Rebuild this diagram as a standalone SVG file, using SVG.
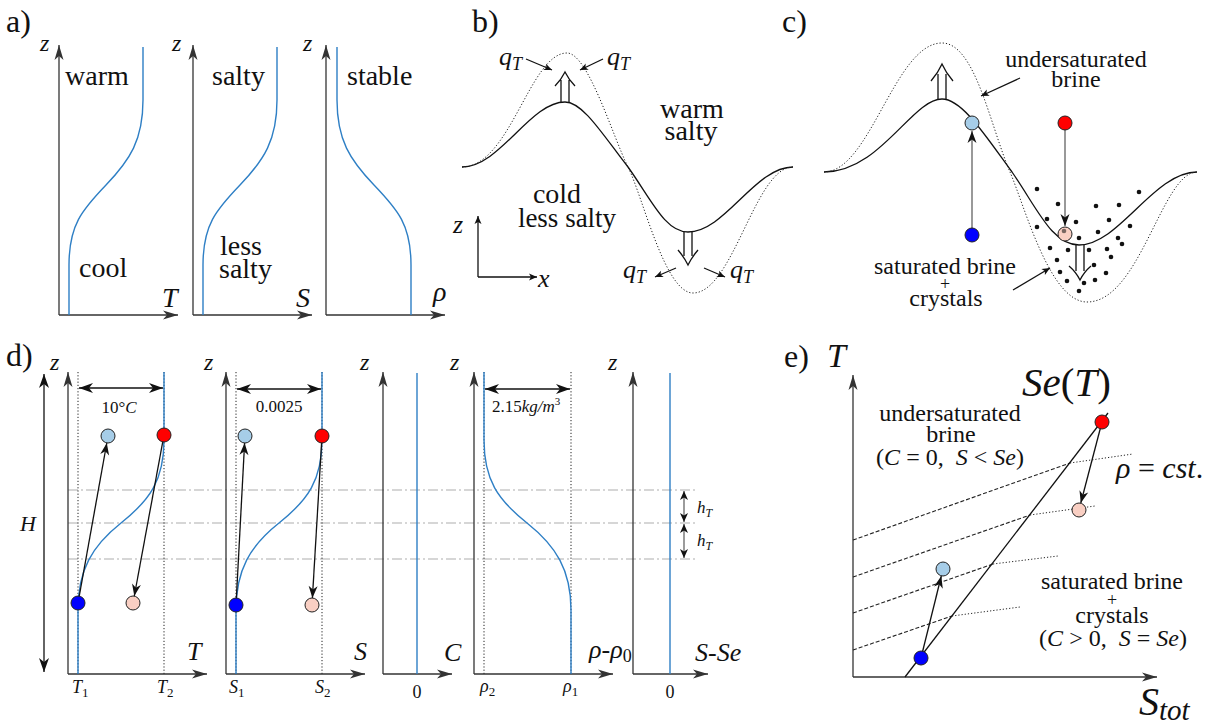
<svg xmlns="http://www.w3.org/2000/svg" width="1218" height="725" viewBox="0 0 1218 725">
<defs>
<style>
text{font-family:'Liberation Serif','DejaVu Serif',serif;fill:#111}
.i{font-style:italic}
.n{font-style:normal}
.ax{stroke:#333;stroke-width:1.3;fill:none}
.bl{stroke:#2e7fc5;stroke-width:1.4;fill:none}
.dt{stroke:#222;stroke-width:1;stroke-dasharray:1.2 2;fill:none}
.dd{stroke:#c9c9c9;stroke-width:1.3;stroke-dasharray:10 3 2 3;fill:none}
.dsh{stroke:#222;stroke-width:1.1;stroke-dasharray:4 2;fill:none}
.k{stroke:#111;stroke-width:1.3;fill:none}
.g{stroke:#777;stroke-width:1.5;fill:none}
.c{stroke:#222;stroke-width:1}
.lb{fill:#a6cde8}
.rd{fill:#ff0000}
.bu{fill:#0000ff}
.pk{fill:#f9cfc3}
</style>
<marker id="ax" viewBox="-16 -6 17 12" refX="0" refY="0" markerWidth="17" markerHeight="12" markerUnits="userSpaceOnUse" orient="auto-start-reverse"><path d="M0,0 L-15,-4.5 L-11,0 L-15,4.5Z" fill="#333"/></marker>
<marker id="dm" viewBox="-16 -6 17 12" refX="0" refY="0" markerWidth="17" markerHeight="12" markerUnits="userSpaceOnUse" orient="auto-start-reverse"><path d="M0,0 L-14,-5 L-10,0 L-14,5Z" fill="#111"/></marker>
<marker id="pt" viewBox="-13 -6 14 12" refX="0" refY="0" markerWidth="14" markerHeight="12" markerUnits="userSpaceOnUse" orient="auto-start-reverse"><path d="M0,0 L-12,-4.5 L-8.5,0 L-12,4.5Z" fill="#111"/></marker>
<marker id="sm" viewBox="-10 -5 11 10" refX="0" refY="0" markerWidth="11" markerHeight="10" markerUnits="userSpaceOnUse" orient="auto-start-reverse"><path d="M0,0 L-8,-3.5 L-6,0 L-8,3.5Z" fill="#111"/></marker>
<marker id="ht" viewBox="-10 -5 11 10" refX="0" refY="0" markerWidth="11" markerHeight="10" markerUnits="userSpaceOnUse" orient="auto-start-reverse"><path d="M0,0 L-9,-4 L-6.5,0 L-9,4Z" fill="#111"/></marker>
</defs>
<rect width="1218" height="725" fill="#fff"/>

<!-- Panel a -->
<g id="panel-a">
<text x="6" y="32" font-size="32">a)</text>
<g id="a-axes">
<path class="ax" d="M59,315 V45" marker-end="url(#ax)"/>
<path class="ax" d="M59,315 H178" marker-end="url(#ax)"/>
<path class="ax" d="M193,315 V45" marker-end="url(#ax)"/>
<path class="ax" d="M193,315 H312" marker-end="url(#ax)"/>
<path class="ax" d="M326,315 V45" marker-end="url(#ax)"/>
<path class="ax" d="M326,315 H445" marker-end="url(#ax)"/>
</g>
<path class="bl" d="M143,47 V100 C143,140 130,160 106,185 C82,210 69,225 69,265 V315"/>
<path class="bl" d="M277,47 V100 C277,140 264,160 240,185 C216,210 203,225 203,265 V315"/>
<path class="bl" d="M337,47 V100 C337,140 350,160 374,185 C398,210 411,225 411,265 V315"/>
<text class="i" x="40" y="51" font-size="24">z</text>
<text class="i" x="172" y="51" font-size="24">z</text>
<text class="i" x="303" y="51" font-size="24">z</text>
<text class="i" x="162" y="307" font-size="28">T</text>
<text class="i" x="296" y="307" font-size="28">S</text>
<text class="i" x="433" y="301" font-size="28">ρ</text>
<text x="65" y="85" font-size="28">warm</text>
<text x="79" y="277" font-size="28">cool</text>
<text x="212" y="85" font-size="28">salty</text>
<text x="220" y="255" font-size="28">less</text>
<text x="219" y="278" font-size="28">salty</text>
<text x="347" y="85" font-size="28">stable</text>
</g>

<!-- Panel b -->
<g id="panel-b">
<text x="472" y="32" font-size="32">b)</text>
<path class="k" d="M462,167 C500,167 530,102 565,102 C583,102 603,135 628,167 C651,199 665,232 688,232 C725,232 755,167 793,167"/>
<path class="dt" d="M462,167 C510,167 530,53 567,53 C588,53 613,137 628,167 C643,197 665,293 693,293 C733,293 755,167 793,167"/>
<g id="b-up-arrow"><path class="k" d="M561,102 V80 M569,102 V80 M555,86 Q561,80 565,72 Q569,80 575,86"/></g>
<g id="b-down-arrow"><path class="k" d="M684,232 V256 M692,232 V256 M678,250 Q684,257 688,265 Q692,257 698,250"/></g>
<g id="b-qT">
<path class="k" d="M526,59 L552,70" marker-end="url(#sm)"/>
<path class="k" d="M603,59 L580,70" marker-end="url(#sm)"/>
<path class="k" d="M676,268 L655,277" marker-end="url(#sm)"/>
<path class="k" d="M704,268 L725,277" marker-end="url(#sm)"/>
<text class="i" x="499" y="65" font-size="26">q<tspan font-size="18" dy="5">T</tspan></text>
<text class="i" x="607" y="65" font-size="26">q<tspan font-size="18" dy="5">T</tspan></text>
<text class="i" x="623" y="278" font-size="26">q<tspan font-size="18" dy="5">T</tspan></text>
<text class="i" x="730" y="278" font-size="26">q<tspan font-size="18" dy="5">T</tspan></text>
</g>
<text x="692" y="118" font-size="28" text-anchor="middle">warm</text>
<text x="691" y="140" font-size="28" text-anchor="middle">salty</text>
<text x="557" y="203" font-size="28" text-anchor="middle">cold</text>
<text x="567" y="227" font-size="27" text-anchor="middle">less salty</text>
<g id="b-axes">
<path class="k" d="M478,277 V216" marker-end="url(#sm)"/>
<path class="k" d="M478,277 H537" marker-end="url(#sm)"/>
<text class="i" x="453" y="233" font-size="26">z</text>
<text class="i" x="538" y="287" font-size="26">x</text>
</g>
</g>

<!-- Panel c -->
<g id="panel-c">
<text x="782" y="32" font-size="32">c)</text>
<path class="k" d="M824,172 C880,172 912,99 942,99 C962,99 985,135 1012,172 C1037,208 1052,245 1079,245 C1119,245 1154,172 1197,172"/>
<path class="dt" d="M824,172 C870,172 895,43 942,43 C975,43 990,125 1010,172 C1025,207 1050,302 1087,302 C1140,302 1162,172 1197,172"/>
<g id="c-up-arrow"><path class="k" d="M938,99 V74 M946,99 V74 M931,81 Q938,73 942,64 Q946,73 953,81"/></g>
<g id="c-crystals" fill="#111">
<circle cx="1037" cy="189" r="2.3"/><circle cx="1058" cy="204" r="2.3"/><circle cx="1139" cy="192" r="2.3"/>
<circle cx="1096" cy="206" r="2.3"/><circle cx="1119" cy="205" r="2.3"/><circle cx="1047" cy="219" r="2.3"/>
<circle cx="1076" cy="222" r="2.3"/><circle cx="1109" cy="220" r="2.3"/><circle cx="1037" cy="227" r="2.3"/>
<circle cx="1098" cy="232" r="2.3"/><circle cx="1130" cy="226" r="2.3"/>
<circle cx="1079" cy="238" r="2.3"/><circle cx="1118" cy="238" r="2.3"/><circle cx="1050" cy="248" r="2.3"/>
<circle cx="1068" cy="250" r="2.3"/><circle cx="1089" cy="250" r="2.3"/><circle cx="1107" cy="249" r="2.3"/>
<circle cx="1122" cy="244" r="2.3"/><circle cx="1111" cy="257" r="2.3"/><circle cx="1057" cy="260" r="2.3"/>
<circle cx="1094" cy="265" r="2.3"/><circle cx="1060" cy="272" r="2.3"/><circle cx="1106" cy="273" r="2.3"/>
<circle cx="1067" cy="281" r="2.3"/><circle cx="1084" cy="283" r="2.3"/><circle cx="1095" cy="280" r="2.3"/>
<circle cx="1079" cy="291" r="2.3"/>
</g>
<g id="c-down-arrow"><path class="k" d="M1076,245 V271 M1084,245 V271 M1069,266 Q1076,272 1080,280 Q1084,272 1091,266"/></g>
<g id="c-paths">
<path class="g" d="M972,235 V131" marker-end="url(#pt)"/>
<path class="g" d="M1065,123 V226" marker-end="url(#pt)"/>
</g>
<g id="c-points">
<circle class="c lb" cx="972" cy="123" r="7"/>
<circle class="c rd" cx="1065" cy="123" r="7"/>
<circle class="c bu" cx="972" cy="235" r="7"/>
<circle class="c pk" cx="1065" cy="234" r="7"/>
<circle cx="1064" cy="231" r="2.3" fill="#111" opacity="0.55"/>
</g>
<text x="1076" y="67" font-size="24" text-anchor="middle">undersaturated</text>
<text x="1076" y="87" font-size="24" text-anchor="middle">brine</text>
<path class="k" d="M1020,78 L981,96" marker-end="url(#sm)"/>
<text x="945" y="274" font-size="24" text-anchor="middle">saturated brine</text>
<text x="945" y="290" font-size="18" text-anchor="middle">+</text>
<text x="946" y="306" font-size="24" text-anchor="middle">crystals</text>
<path class="k" d="M1013,290 L1050,268" marker-end="url(#sm)"/>
</g>

<!-- Panel d -->
<g id="panel-d">
<text x="6" y="366" font-size="32">d)</text>
<g id="d-guides">
<path class="dd" d="M68,490 H698 M68,523 H698 M68,559 H698"/>
<path class="dt" d="M78,372 V674 M164,372 V674 M236,372 V674 M322,372 V674 M484,372 V674 M571,372 V674"/>
</g>
<g id="d-axes">
<path class="ax" d="M68,674 V372" marker-end="url(#ax)"/>
<path class="ax" d="M68,674 H207" marker-end="url(#ax)"/>
<path class="ax" d="M226,674 V372" marker-end="url(#ax)"/>
<path class="ax" d="M226,674 H365" marker-end="url(#ax)"/>
<path class="ax" d="M383,674 V372" marker-end="url(#ax)"/>
<path class="ax" d="M383,674 H452" marker-end="url(#ax)"/>
<path class="ax" d="M474,674 V372" marker-end="url(#ax)"/>
<path class="ax" d="M474,674 H613" marker-end="url(#ax)"/>
<path class="ax" d="M633,674 V372" marker-end="url(#ax)"/>
<path class="ax" d="M633,674 H708" marker-end="url(#ax)"/>
<path class="k" d="M44,374 V672" marker-start="url(#dm)" marker-end="url(#dm)"/>
</g>
<g id="d-profiles">
<path class="bl" d="M164,372 V440 C164,480 150,500 121,523 C92,546 78,570 78,610 V674"/>
<path class="bl" d="M322,372 V440 C322,480 308,500 279,523 C250,546 236,570 236,610 V674"/>
<path class="bl" d="M417,373 V674"/>
<path class="bl" d="M484,372 V440 C484,480 498,500 527,523 C556,546 571,570 571,610 V674"/>
<path class="bl" d="M670,373 V674"/>
</g>
<g id="d-dims">
<path class="k" d="M79,388 H163" marker-start="url(#dm)" marker-end="url(#dm)"/>
<path class="k" d="M237,389 H321" marker-start="url(#dm)" marker-end="url(#dm)"/>
<path class="k" d="M485,389 H570" marker-start="url(#dm)" marker-end="url(#dm)"/>
<path class="k" style="stroke:#666" d="M684,491 V522" marker-start="url(#ht)" marker-end="url(#ht)"/>
<path class="k" style="stroke:#666" d="M684,524 V558" marker-start="url(#ht)" marker-end="url(#ht)"/>
<text x="119" y="413" font-size="17" text-anchor="middle">10°<tspan class="i">C</tspan></text>
<text x="279" y="412" font-size="17" text-anchor="middle">0.0025</text>
<text x="492" y="412" font-size="17">2.15<tspan class="i">kg/m</tspan><tspan font-size="11" dy="-7">3</tspan></text>
<text class="i" x="697" y="513" font-size="17">h<tspan font-size="12" dy="4">T</tspan></text>
<text class="i" x="697" y="546" font-size="17">h<tspan font-size="12" dy="4">T</tspan></text>
</g>
<g id="d-paths">
<path class="k" d="M78,603 L106.8,443" marker-end="url(#pt)"/>
<path class="k" d="M164,435 L134.3,596" marker-end="url(#pt)"/>
<path class="k" d="M236,605 L244.6,443" marker-end="url(#pt)"/>
<path class="k" d="M322,436 L312.4,598" marker-end="url(#pt)"/>
<circle class="c lb" cx="108" cy="436" r="7"/>
<circle class="c rd" cx="164" cy="435" r="7"/>
<circle class="c bu" cx="78" cy="603" r="7"/>
<circle class="c pk" cx="133" cy="603" r="7"/>
<circle class="c lb" cx="245" cy="436" r="7"/>
<circle class="c rd" cx="322" cy="436" r="7"/>
<circle class="c bu" cx="236" cy="605" r="7"/>
<circle class="c pk" cx="312" cy="605" r="7"/>
</g>
<g id="d-labels">
<text class="i" x="50" y="370" font-size="24">z</text>
<text class="i" x="204" y="370" font-size="24">z</text>
<text class="i" x="360" y="370" font-size="24">z</text>
<text class="i" x="450" y="370" font-size="24">z</text>
<text class="i" x="608" y="370" font-size="24">z</text>
<text class="i" x="20" y="531" font-size="22">H</text>
<text class="i" x="187" y="660" font-size="26">T</text>
<text class="i" x="354" y="660" font-size="26">S</text>
<text class="i" x="444" y="661" font-size="26">C</text>
<text x="589" y="658" font-size="26"><tspan class="i">ρ</tspan>-<tspan class="i">ρ</tspan><tspan font-size="18" dy="4">0</tspan></text>
<text x="695" y="661" font-size="26"><tspan class="i">S</tspan>-<tspan class="i">Se</tspan></text>
<text class="i" x="72" y="693" font-size="18">T<tspan class="n" font-size="13" dy="4">1</tspan></text>
<text class="i" x="157" y="693" font-size="18">T<tspan class="n" font-size="13" dy="4">2</tspan></text>
<text class="i" x="229" y="693" font-size="18">S<tspan class="n" font-size="13" dy="4">1</tspan></text>
<text class="i" x="315" y="693" font-size="18">S<tspan class="n" font-size="13" dy="4">2</tspan></text>
<text class="i" x="480" y="692" font-size="18">ρ<tspan class="n" font-size="13" dy="4">2</tspan></text>
<text class="i" x="563" y="692" font-size="18">ρ<tspan class="n" font-size="13" dy="4">1</tspan></text>
<text x="417" y="698" font-size="18" text-anchor="middle">0</text>
<text x="670" y="698" font-size="18" text-anchor="middle">0</text>
</g>
</g>

<!-- Panel e -->
<g id="panel-e">
<text x="784" y="367" font-size="32">e)</text>
<text class="i" x="827" y="367" font-size="34">T</text>
<g id="e-axes">
<path class="ax" d="M853,677 V375" marker-end="url(#ax)"/>
<path class="ax" d="M853,677 H1157" marker-end="url(#ax)"/>
</g>
<g id="e-isopycnals">
<path class="dsh" d="M853,540 L1070,463 M853,577 L1030,515 M853,613 L993,564 M853,650 L952,616"/>
<path class="dt" d="M1070,463 L1133,454 M1030,515 L1095,506 M993,564 L1058,556 M952,616 L1020,607"/>
</g>
<path class="k" d="M905,677 L1108,413"/>
<g id="e-paths">
<path class="k" d="M1102,422 L1080.8,503" marker-end="url(#pt)"/>
<path class="k" d="M921,658 L941.3,576" marker-end="url(#pt)"/>
<circle class="c rd" cx="1102" cy="422" r="7"/>
<circle class="c pk" cx="1079" cy="510" r="7"/>
<circle class="c lb" cx="943" cy="569" r="7"/>
<circle class="c bu" cx="921" cy="658" r="7"/>
</g>
<text x="1022" y="396" font-size="41"><tspan class="i">Se</tspan>(<tspan class="i">T</tspan>)</text>
<text class="i" x="1139" y="715" font-size="40">S<tspan font-size="29" dy="5">tot</tspan></text>
<text x="950" y="421" font-size="24" text-anchor="middle">undersaturated</text>
<text x="951" y="442" font-size="24" text-anchor="middle">brine</text>
<text x="950" y="465" font-size="24" text-anchor="middle">(<tspan class="i">C</tspan> = 0,&#160; <tspan class="i">S</tspan> &lt; <tspan class="i">Se</tspan>)</text>
<text x="1116" y="478" font-size="30"><tspan class="i">ρ</tspan> = <tspan class="i">cst</tspan>.</text>
<text x="1112" y="589" font-size="24" text-anchor="middle">saturated brine</text>
<text x="1112" y="606" font-size="18" text-anchor="middle">+</text>
<text x="1112" y="623" font-size="24" text-anchor="middle">crystals</text>
<text x="1113" y="646" font-size="24" text-anchor="middle">(<tspan class="i">C</tspan> &gt; 0,&#160; <tspan class="i">S</tspan> = <tspan class="i">Se</tspan>)</text>
</g>
</svg>
